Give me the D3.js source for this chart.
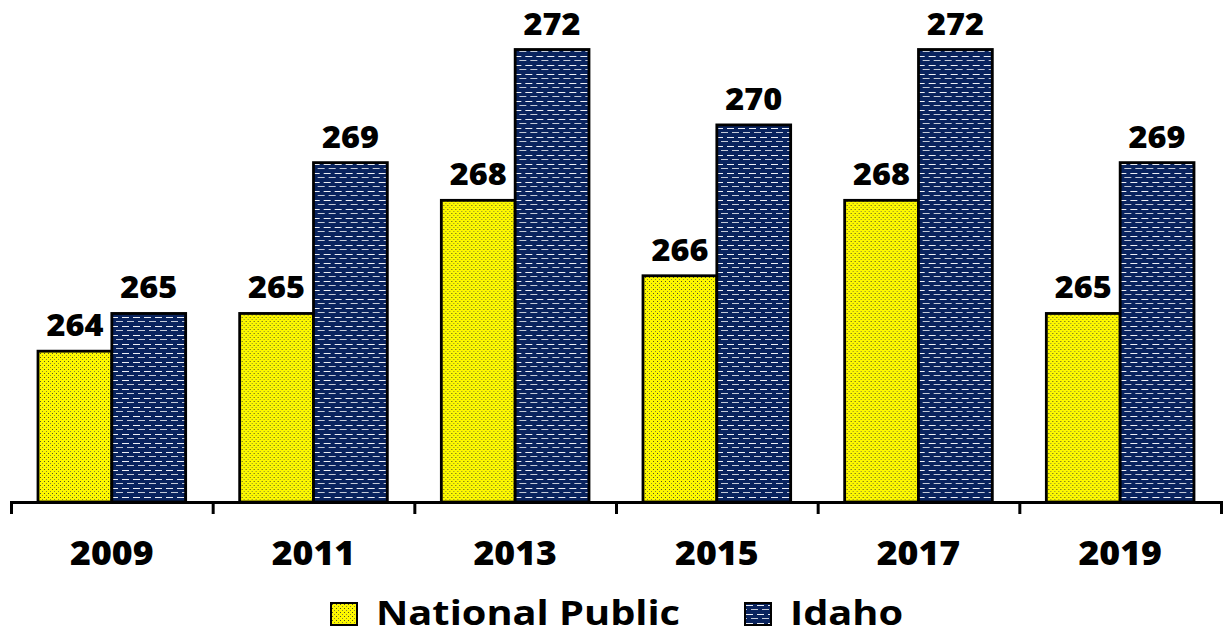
<!DOCTYPE html>
<html>
<head>
<meta charset="utf-8">
<script src="https://cdn.jsdelivr.net/npm/d3@7"></script>
<style>
  body { margin: 0; background: #fff; }
  text { font-family: "Open Sans", sans-serif; font-weight: 700; fill: #000; }
</style>
</head>
<body>
<div id="chart"></div>
<script>
// data
var years = ["2009", "2011", "2013", "2015", "2017", "2019"];
var seriesNames = ["National Public", "Idaho"];
var nationalPublic = [264, 265, 268, 266, 268, 265];
var idaho = [265, 269, 272, 270, 272, 269];

var width = 1225, height = 635;
var axisY = 502;

var svg = d3.select("#chart").append("svg")
    .attr("width", width)
    .attr("height", height);

// patterns
var defs = svg.append("defs");
var pYellow = defs.append("pattern")
    .attr("id", "dotsYellow")
    .attr("patternUnits", "userSpaceOnUse")
    .attr("width", 4).attr("height", 4);
pYellow.append("rect").attr("width", 4).attr("height", 4).attr("fill", "#fdf800");
pYellow.append("rect").attr("x", 1).attr("y", 1).attr("width", 1).attr("height", 1)
    .attr("fill", "#55551c").attr("shape-rendering", "crispEdges");
pYellow.append("rect").attr("x", 3).attr("y", 3).attr("width", 1).attr("height", 1)
    .attr("fill", "#8a8a30").attr("shape-rendering", "crispEdges");

var pBlue = defs.append("pattern")
    .attr("id", "dashBlue")
    .attr("patternUnits", "userSpaceOnUse")
    .attr("width", 11).attr("height", 9);
pBlue.append("rect").attr("width", 11).attr("height", 9).attr("fill", "#09235e");
pBlue.append("rect").attr("x", 1).attr("y", 2).attr("width", 7).attr("height", 1)
    .attr("fill", "#eef0f6").attr("shape-rendering", "crispEdges");
pBlue.append("rect").attr("x", 6).attr("y", 6).attr("width", 7).attr("height", 1)
    .attr("fill", "#c4cad8").attr("shape-rendering", "crispEdges");
pBlue.append("rect").attr("x", -5).attr("y", 6).attr("width", 7).attr("height", 1)
    .attr("fill", "#c4cad8").attr("shape-rendering", "crispEdges");

var fills = ["url(#dotsYellow)", "url(#dashBlue)"];

// scales
var x0 = d3.scaleBand()
    .domain(years)
    .range([11, 1221])
    .padding(0);
var x1 = d3.scaleBand()
    .domain(seriesNames)
    .range([27, x0.bandwidth() - 27])
    .padding(0);
var y = d3.scaleLinear()
    .domain([260, 272])
    .range([axisY, 49.5]);

var rows = years.map(function (yr, i) {
    return { year: yr, values: [
        { name: seriesNames[0], value: nationalPublic[i] },
        { name: seriesNames[1], value: idaho[i] }
    ] };
});

var groups = svg.selectAll(".grp")
    .data(rows)
    .enter().append("g")
    .attr("class", "grp")
    .attr("transform", function (d) { return "translate(" + x0(d.year) + ",0)"; });

groups.selectAll("rect")
    .data(function (d) { return d.values; })
    .enter().append("rect")
    .attr("x", function (d) { return x1(d.name); })
    .attr("width", x1.bandwidth())
    .attr("y", function (d) { return y(d.value); })
    .attr("height", function (d) { return axisY - y(d.value); })
    .attr("fill", function (d, i) { return fills[i]; })
    .attr("stroke", "#000")
    .attr("stroke-width", 2.8);

// value labels
groups.selectAll(".val")
    .data(function (d) { return d.values; })
    .enter().append("text")
    .attr("class", "val")
    .attr("text-anchor", "middle")
    .attr("transform", function (d) {
        return "translate(" + (x1(d.name) + x1.bandwidth() / 2) + "," + (y(d.value) - 15) + ") scale(1.08,1)";
    })
    .style("font-size", "30px")
    .style("font-weight", 800)
    .text(function (d) { return d.value; });

// x axis with tick marks at group edges
var edges = d3.scaleLinear().domain([0, years.length]).range(x0.range());
var axis = svg.append("g")
    .attr("transform", "translate(0," + axisY + ")")
    .call(d3.axisBottom(edges)
        .tickValues(d3.range(years.length + 1))
        .tickFormat("")
        .tickSize(12)
        .tickSizeOuter(12));
axis.selectAll("path, line").attr("stroke", "#000").attr("stroke-width", 3);

// year labels
svg.selectAll(".yr")
    .data(years)
    .enter().append("text")
    .attr("class", "yr")
    .attr("text-anchor", "middle")
    .attr("transform", function (d) {
        return "translate(" + (x0(d) + x0.bandwidth() / 2) + ",565) scale(1.08,1)";
    })
    .style("font-size", "33px")
    .style("font-weight", 800)
    .text(function (d) { return d; });

// legend
var legendX = [331, 745];
var legend = svg.selectAll(".leg")
    .data(seriesNames)
    .enter().append("g")
    .attr("class", "leg")
    .attr("transform", function (d, i) { return "translate(" + legendX[i] + ",603)"; });
legend.append("rect")
    .attr("width", 26).attr("height", 22)
    .attr("fill", function (d, i) { return fills[i]; })
    .attr("stroke", "#000")
    .attr("stroke-width", 2);
legend.append("text")
    .attr("transform", "translate(45,22) scale(1.17,1)")
    .style("font-size", "34px")
    .text(function (d) { return d; });
</script>
</body>
</html>
